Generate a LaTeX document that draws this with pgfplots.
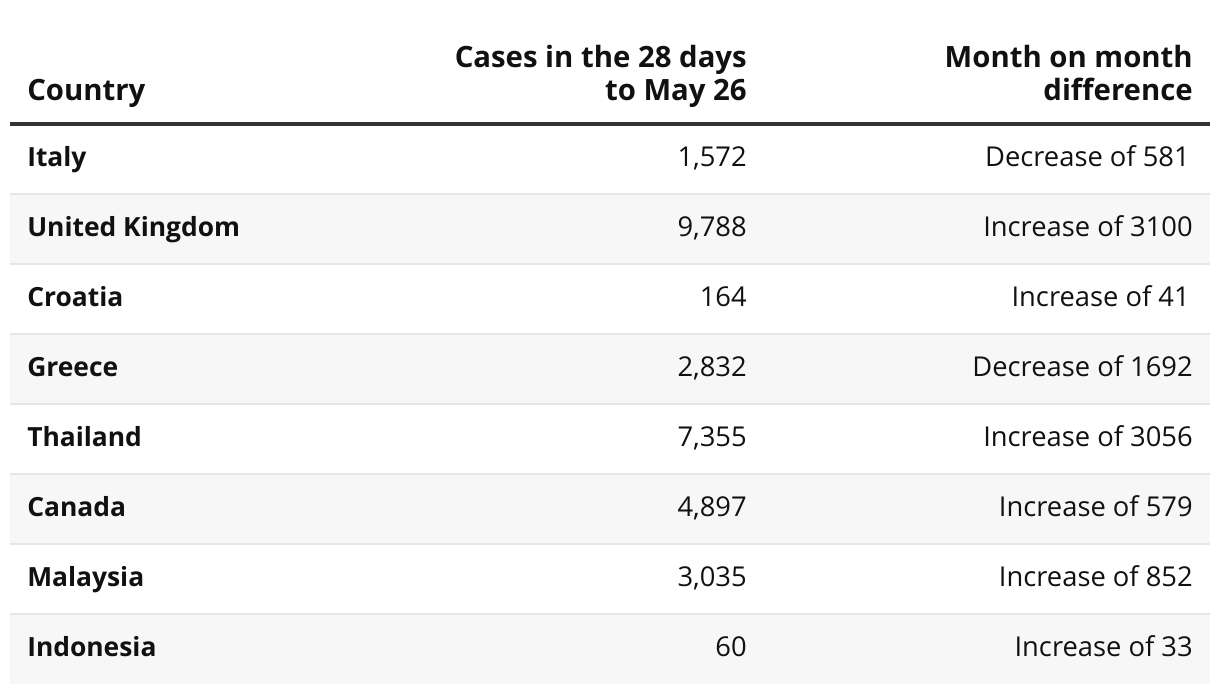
\documentclass[border=0pt]{standalone}
\usepackage{fontspec}
\setmainfont{Open Sans}
\usepackage{pgfplots}
\usepackage{pgfplotstable}
\pgfplotsset{compat=1.18}
\definecolor{rulecol}{HTML}{333333}
\definecolor{sepcol}{HTML}{E6E6E6}
\definecolor{bandcol}{HTML}{F7F7F7}
\definecolor{ink}{HTML}{111111}

% header cells, left aligned
\pgfplotstableread[col sep=semicolon]{
x;y;label
27;100;Country
}\headleft
% header cells, right aligned
\pgfplotstableread[col sep=semicolon]{
x;y;label
747;67;Cases in the 28 days
747;100;to May 26
1193;67;Month on month
1193;100;difference
}\headright
% country names
\pgfplotstableread[col sep=semicolon]{
x;y;label
27;166;Italy
27;236;United Kingdom
27;306;Croatia
27;376;Greece
27;446;Thailand
27;516;Canada
27;586;Malaysia
27;656;Indonesia
}\countries
% cases in the 28 days to May 26
\pgfplotstableread[col sep=semicolon]{
x;y;label
747;166;1,572
747;236;9,788
747;306;164
747;376;2,832
747;446;7,355
747;516;4,897
747;586;3,035
747;656;60
}\cases
% month on month difference
\pgfplotstableread[col sep=semicolon]{
x;y;label
1190;166;Decrease of 581
1193;236;Increase of 3100
1190;306;Increase of 41
1193;376;Decrease of 1692
1193;446;Increase of 3056
1193;516;Increase of 579
1193;586;Increase of 852
1193;656;Increase of 33
}\diffs

\begin{document}
\begin{tikzpicture}
\begin{axis}[
  width=915pt, height=520.5pt, scale only axis,
  xmin=0, xmax=1220, ymin=0, ymax=694, y dir=reverse,
  hide axis, clip=false,
  bodytext/.style={draw=none, mark=none, nodes near coords, point meta=explicit symbolic,
    every node near coord/.append style={inner sep=0pt, text=ink, font=\fontsize{20.5}{24}\selectfont}},
]
% background
\addplot[fill=white, draw=none] coordinates {(0,0) (1220,0) (1220,694) (0,694)} -- cycle;
% shaded rows
\addplot[fill=bandcol, draw=none] coordinates {(10,194) (1210,194) (1210,264) (10,264)} -- cycle;
\addplot[fill=bandcol, draw=none] coordinates {(10,334) (1210,334) (1210,404) (10,404)} -- cycle;
\addplot[fill=bandcol, draw=none] coordinates {(10,474) (1210,474) (1210,544) (10,544)} -- cycle;
\addplot[fill=bandcol, draw=none] coordinates {(10,614) (1210,614) (1210,684) (10,684)} -- cycle;
% separators
\addplot[sepcol, line width=1.5pt] coordinates {(10,194) (1210,194)};
\addplot[sepcol, line width=1.5pt] coordinates {(10,264) (1210,264)};
\addplot[sepcol, line width=1.5pt] coordinates {(10,334) (1210,334)};
\addplot[sepcol, line width=1.5pt] coordinates {(10,404) (1210,404)};
\addplot[sepcol, line width=1.5pt] coordinates {(10,474) (1210,474)};
\addplot[sepcol, line width=1.5pt] coordinates {(10,544) (1210,544)};
\addplot[sepcol, line width=1.5pt] coordinates {(10,614) (1210,614)};
% header rule
\addplot[rulecol, line width=3pt] coordinates {(10,124) (1210,124)};
% header text
\addplot[bodytext, every node near coord/.append style={anchor=base west, font=\fontsize{22}{26}\selectfont\bfseries}] table[x=x, y=y, meta=label] {\headleft};
\addplot[bodytext, every node near coord/.append style={anchor=base east, font=\fontsize{22}{26}\selectfont\bfseries}] table[x=x, y=y, meta=label] {\headright};
% body text
\addplot[bodytext, every node near coord/.append style={anchor=base west, font=\fontsize{19.8}{24}\selectfont\bfseries}] table[x=x, y=y, meta=label] {\countries};
\addplot[bodytext, every node near coord/.append style={anchor=base east}] table[x=x, y=y, meta=label] {\cases};
\addplot[bodytext, every node near coord/.append style={anchor=base east}] table[x=x, y=y, meta=label] {\diffs};
\end{axis}
\end{tikzpicture}
\end{document}
